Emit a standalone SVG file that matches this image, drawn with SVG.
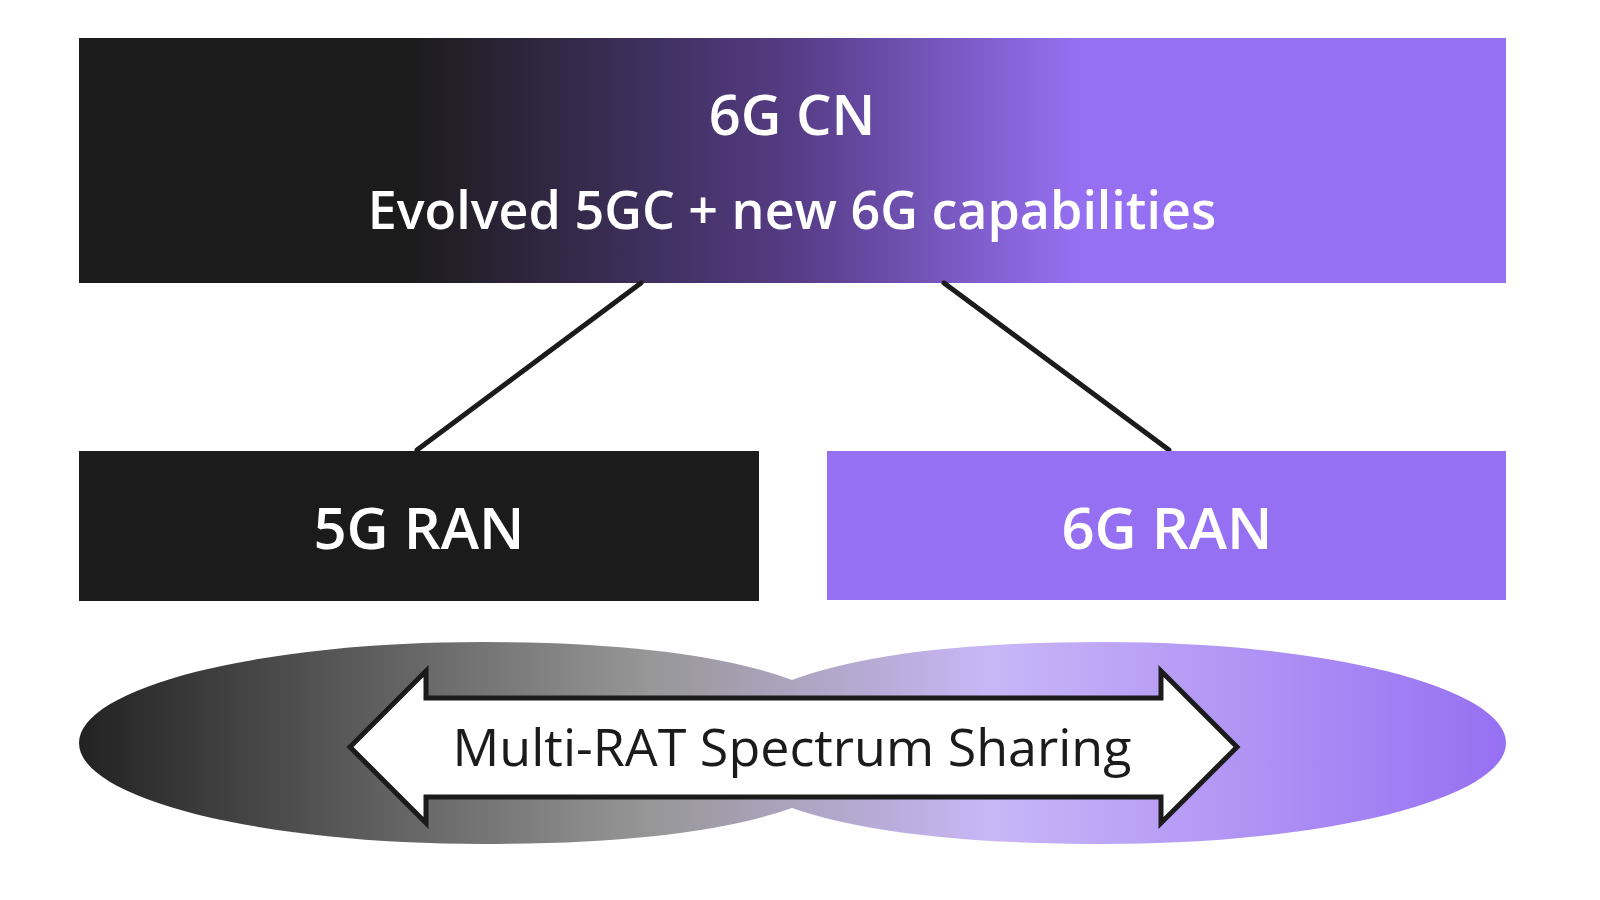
<svg xmlns="http://www.w3.org/2000/svg" width="1600" height="900" viewBox="0 0 1600 900">
<defs>
<linearGradient id="cn" x1="79" y1="0" x2="1506" y2="0" gradientUnits="userSpaceOnUse">
<stop offset="0" stop-color="#1b1b1b"/><stop offset="0.23" stop-color="#1b1b1b"/><stop offset="0.5" stop-color="#553c85"/><stop offset="0.7" stop-color="#9670F2"/><stop offset="1" stop-color="#9670F2"/>
</linearGradient>
<linearGradient id="el" x1="79" y1="0" x2="1506" y2="0" gradientUnits="userSpaceOnUse">
<stop offset="0" stop-color="#222"/><stop offset="0.4" stop-color="#979797"/><stop offset="0.64" stop-color="#c9b6f7"/><stop offset="1" stop-color="#9670F2"/>
</linearGradient>
<style>
.t{font-family:"Open Sans","Noto Sans",sans-serif;fill:#fff;text-anchor:middle;font-weight:600}
.c{stroke:#1b1b1b;stroke-width:5;fill:none;stroke-linecap:round}
</style>
</defs>
<g id="cn-node"><rect x="79" y="38" width="1427" height="245" fill="url(#cn)"/>
<text class="t" x="792" y="135" font-size="56">6G CN</text>
<text class="t" x="792" y="229" font-size="52">Evolved 5GC + new 6G capabilities</text></g>
<g id="connectors"><line class="c" x1="641" y1="283" x2="417" y2="450"/><line class="c" x1="944" y1="283" x2="1169" y2="450"/></g>
<g id="ran5"><rect x="79" y="451" width="680" height="150" fill="#1b1b1b"/><text class="t" x="419" y="549" font-size="58">5G RAN</text></g>
<g id="ran6"><rect x="827" y="451" width="679" height="149" fill="#9670F2"/><text class="t" x="1167" y="549" font-size="58">6G RAN</text></g>
<g id="sharing">
<path fill="url(#el)" d="M792,680 Q690,642 482,642 A403,101 0 0 0 482,844 Q690,844 792,808 Q895,844 1104,844 A402,101 0 0 0 1104,642 Q895,642 792,680 Z"/>
<polygon points="350,747 426,671 426,698 1161,698 1161,671 1237,747 1161,823 1161,797 426,797 426,823" fill="#fff" stroke="#1b1b1b" stroke-width="5" stroke-linejoin="miter"/>
<text x="792" y="766" font-size="52" text-anchor="middle" font-family="Open Sans,Noto Sans,sans-serif" fill="#1b1b1b">Multi-RAT Spectrum Sharing</text>
</g>
</svg>
